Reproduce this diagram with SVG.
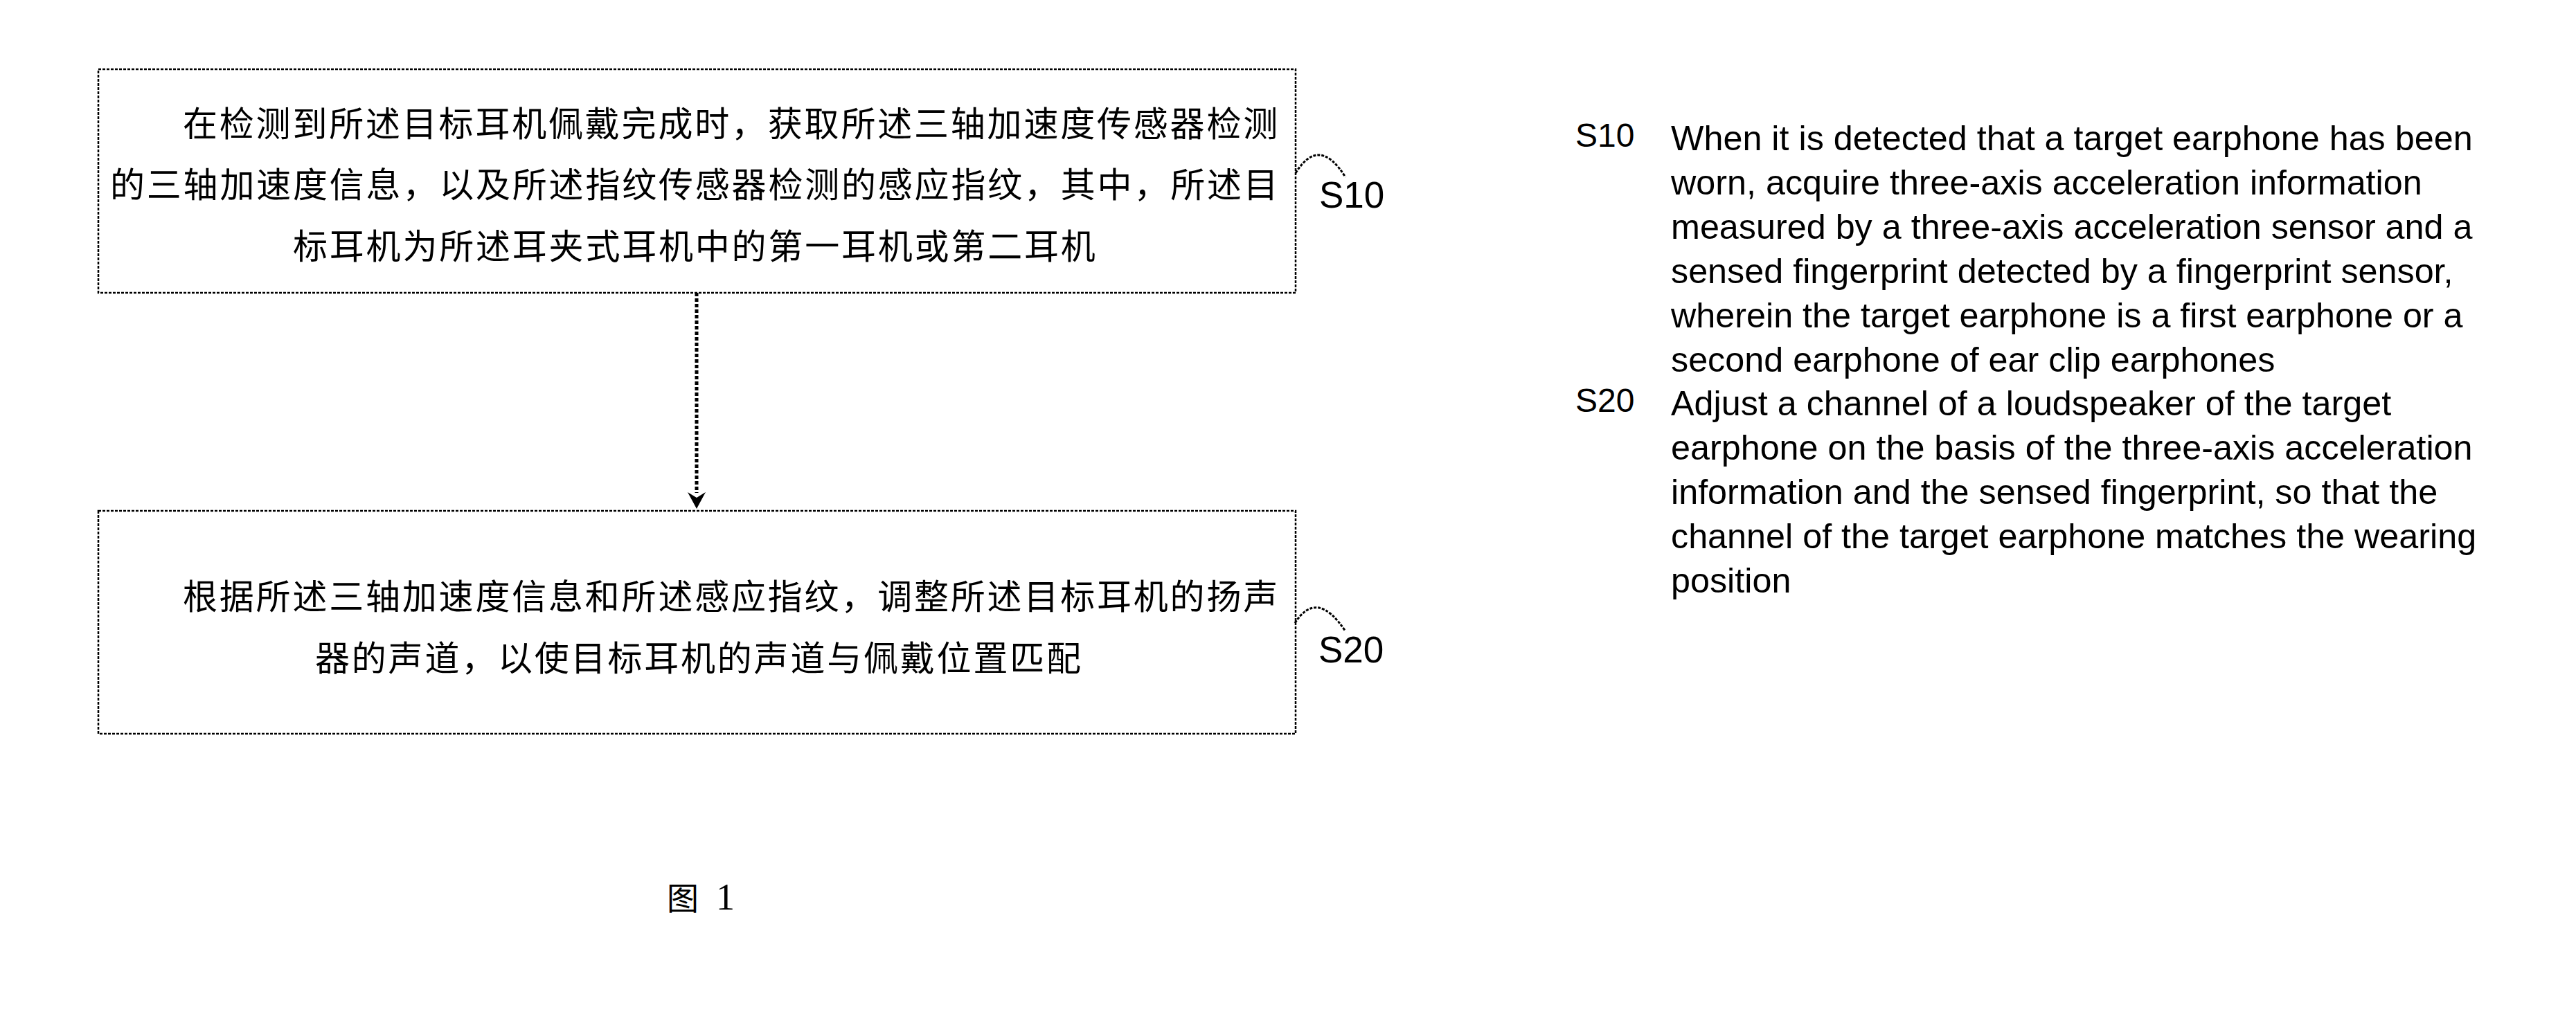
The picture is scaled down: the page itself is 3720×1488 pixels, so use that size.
<svg xmlns="http://www.w3.org/2000/svg" width="3720" height="1488" viewBox="0 0 3720 1488">
<style>
.box{fill:#fff;stroke:#000;stroke-width:2.5;stroke-dasharray:4 2}
.cn{font-family:"Noto Sans CJK SC","Noto Sans CJK JP",sans-serif;font-size:50px;letter-spacing:2.8px;fill:#000}
.lbl{font-family:"Liberation Sans",Arial,sans-serif;font-size:53px;fill:#000}
.en{font-family:"Liberation Sans",Arial,sans-serif;font-size:50.3px;fill:#000}
.enl{font-family:"Liberation Sans",Arial,sans-serif;font-size:48px;fill:#000}
.curl{fill:none;stroke:#000;stroke-width:3;stroke-dasharray:4 2}
.conn{fill:none;stroke:#000;stroke-width:5;stroke-dasharray:5 3}
.head{fill:#000}
</style>
<rect width="3720" height="1488" fill="#fff"/>
<g id="connectors">
<path class="conn" d="M1006,423 L1006,712"/>
<path class="head" d="M993,711 L1006,735 L1019,711 L1006,719 Z"/>
</g>
<g id="node-s10">
<rect class="box" x="142" y="100" width="1729" height="323"/>
<text class="cn" x="264" y="197">在检测到所述目标耳机佩戴完成时，获取所述三轴加速度传感器检测</text>
<text class="cn" x="159" y="285">的三轴加速度信息，以及所述指纹传感器检测的感应指纹，其中，所述目</text>
<text class="cn" x="423" y="374">标耳机为所述耳夹式耳机中的第一耳机或第二耳机</text>
<path class="curl" d="M1871,250 Q1905,195 1943,256"/>
<text class="lbl" x="1905" y="300">S10</text>
</g>
<g id="node-s20">
<rect class="box" x="142" y="738" width="1729" height="322"/>
<text class="cn" x="264" y="880">根据所述三轴加速度信息和所述感应指纹，调整所述目标耳机的扬声</text>
<text class="cn" x="455" y="969">器的声道，以使目标耳机的声道与佩戴位置匹配</text>
<path class="curl" d="M1870,900 Q1902,850 1943,912"/>
<text class="lbl" x="1904" y="957">S20</text>
</g>
<g id="caption">
<text x="963" y="1314"><tspan font-family="Noto Sans CJK SC,sans-serif" font-size="46">图</tspan><tspan x="1034" font-family="Liberation Serif,serif" font-size="54">1</tspan></text>
</g>
<g id="legend">
<text class="enl" x="2275" y="212">S10</text>
<text class="en" x="2413" y="217">When it is detected that a target earphone has been</text>
<text class="en" x="2413" y="281">worn, acquire three-axis acceleration information</text>
<text class="en" x="2413" y="345">measured by a three-axis acceleration sensor and a</text>
<text class="en" x="2413" y="409">sensed fingerprint detected by a fingerprint sensor,</text>
<text class="en" x="2413" y="473">wherein the target earphone is a first earphone or a</text>
<text class="en" x="2413" y="537">second earphone of ear clip earphones</text>
<text class="enl" x="2275" y="595">S20</text>
<text class="en" x="2413" y="600">Adjust a channel of a loudspeaker of the target</text>
<text class="en" x="2413" y="664">earphone on the basis of the three-axis acceleration</text>
<text class="en" x="2413" y="728">information and the sensed fingerprint, so that the</text>
<text class="en" x="2413" y="792">channel of the target earphone matches the wearing</text>
<text class="en" x="2413" y="856">position</text>
</g>
</svg>
